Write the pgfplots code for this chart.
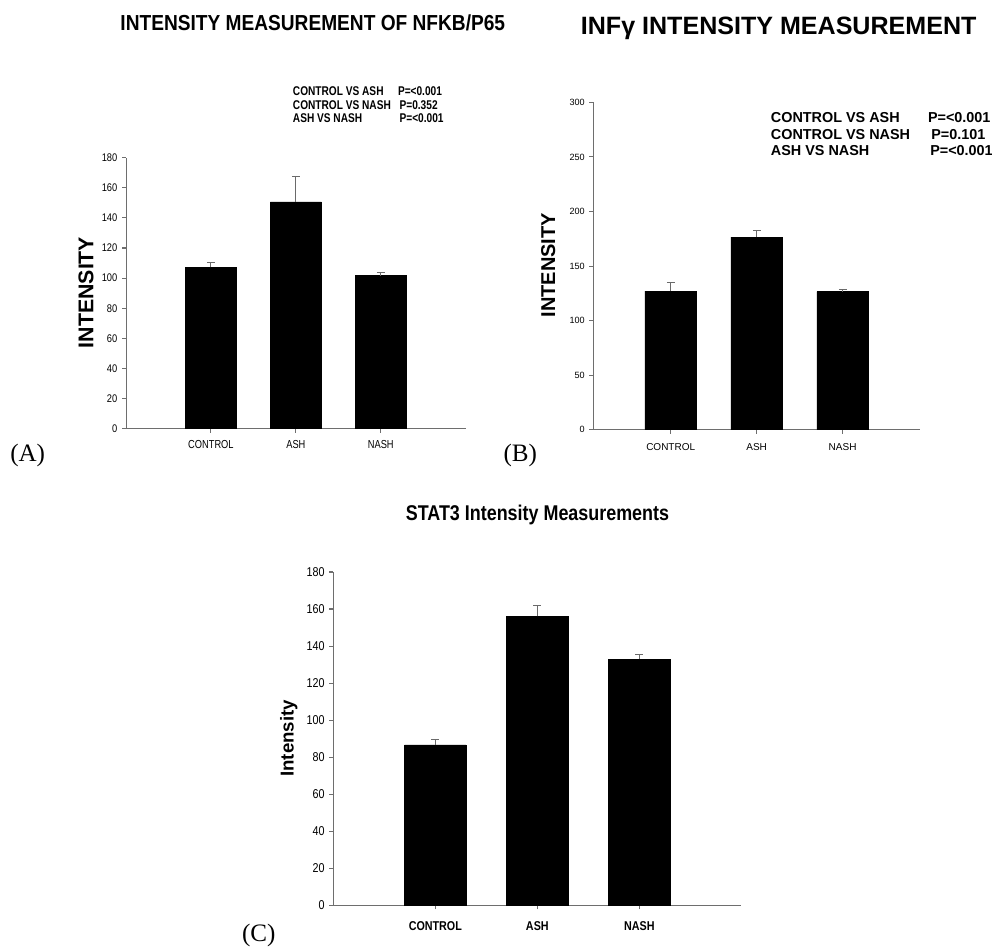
\documentclass[border=0pt]{standalone}
\usepackage{pgfplots}
\pgfplotsset{compat=1.18}
\usepackage{fontspec}
\setmainfont{Liberation Sans}
\newfontfamily\condA[FakeStretch=0.88]{Liberation Sans}
\newfontfamily\condB[FakeStretch=0.84]{Liberation Sans}
\newfontfamily\condC[FakeStretch=0.80]{Liberation Sans}
\newfontfamily\panelfont{Liberation Serif}

\definecolor{axgray}{HTML}{6E6E6E}
\definecolor{errgray}{HTML}{6A6A6A}

\pgfplotsset{
  barpanel/.style={
    scale only axis,
    axis lines*=left,
    axis line style={axgray, line width=0.75pt},
    ybar, bar width=0.6, bar shift=0pt,
    ymin=0,
    xtick={1,2,3},
    xticklabels={CONTROL,ASH,NASH},
    tick align=outside,
    tick style={axgray, line width=0.8pt},
    major tick length=3pt,
    /pgf/number format/assume math mode=true,
    error bars/y dir=plus,
    error bars/y explicit,
    error bars/error bar style={errgray, line width=0.75pt},
    error bars/error mark options={rotate=90, errgray, mark size=2.9pt, line width=0.75pt},
  },
}

\begin{document}
\begin{tikzpicture}
\path[use as bounding box] (0,0) rectangle (744pt,711pt);

% (A) NFKB/P65
\begin{axis}[barpanel,
  at={(94.5pt,389.5pt)}, anchor=south west,
  width=254.8pt, height=203.25pt,
  xmin=0, xmax=4, ymax=180,
  ytick={0,20,...,180},
  yticklabel style={font=\condB\fontsize{8.3}{9}\selectfont},
  xticklabel style={font=\condC\fontsize{8.7}{9}\selectfont, yshift=-2.5pt},
]
\addplot[fill=black, draw=black] coordinates {
  (1,107.2) +- (0,3.1)
  (2,150.6) +- (0,17.2)
  (3,101.6) +- (0,2.0)
};
\end{axis}

% (B) INF gamma
\begin{axis}[barpanel,
  at={(445pt,388.7pt)}, anchor=south west,
  width=245pt, height=245.5pt,
  xmin=0.1, xmax=3.9, ymax=300,
  ytick={0,50,...,300},
  yticklabel style={font=\fontsize{6.8}{7}\selectfont},
  xticklabel style={font=\fontsize{7.5}{8}\selectfont, yshift=-3.8pt},
]
\addplot[fill=black, draw=black] coordinates {
  (1,127.1) +- (0,8.0)
  (2,176.6) +- (0,6.1)
  (3,126.5) +- (0,2.4)
};
\end{axis}

% (C) STAT3
\begin{axis}[barpanel,
  at={(250pt,32pt)}, anchor=south west,
  width=306pt, height=250pt,
  xmin=0, xmax=4, ymax=180,
  ytick={0,20,...,180},
  yticklabel style={font=\condB\fontsize{9.6}{10}\selectfont},
  xticklabel style={font=\condB\bfseries\fontsize{9.6}{10}\selectfont, yshift=-5.5pt},
]
\addplot[fill=black, draw=black] coordinates {
  (1,86.6) +- (0,3.0)
  (2,156.1) +- (0,5.7)
  (3,133.0) +- (0,2.4)
};
\end{axis}

% titles
\node[anchor=base, font=\condA\bfseries\fontsize{16.3}{18}\selectfont] at (234.6pt,688pt) {INTENSITY MEASUREMENT OF NFKB/P65};
\node[anchor=base, font=\bfseries\fontsize{18.8}{20}\selectfont] at (584pt,684.75pt) {INFγ INTENSITY MEASUREMENT};
\node[anchor=base, font=\condB\bfseries\fontsize{16}{18}\selectfont] at (403.1pt,320.5pt) {STAT3 Intensity Measurements};

% y labels
\node[anchor=base, rotate=90, font=\bfseries\fontsize{16}{18}\selectfont] at (70pt,491.6pt) {INTENSITY};
\node[anchor=base, rotate=90, font=\bfseries\fontsize{15}{17}\selectfont] at (416.25pt,512pt) {INTENSITY};
\node[anchor=base, rotate=90, font=\bfseries\fontsize{14}{16}\selectfont] at (220.2pt,157.3pt) {Intensity};

% p values (A)
\begin{scope}[every node/.style={anchor=base west, inner sep=0pt, font=\condC\bfseries\fontsize{9.5}{10}\selectfont}]
\node at (219.5pt,639pt) {CONTROL VS ASH};
\node at (219.5pt,629pt) {CONTROL VS NASH};
\node at (219.5pt,619pt) {ASH VS NASH};
\node at (298.3pt,639pt) {P=<0.001};
\node at (299.5pt,629pt) {P=0.352};
\node at (299.5pt,619pt) {P=<0.001};
\end{scope}

% p values (B)
\begin{scope}[every node/.style={anchor=base west, inner sep=0pt, font=\bfseries\fontsize{10.8}{12}\selectfont}]
\node at (578pt,619pt) {CONTROL VS ASH};
\node at (578pt,606.5pt) {CONTROL VS NASH};
\node at (578pt,594pt) {ASH VS NASH};
\node at (695.8pt,619pt) {P=<0.001};
\node at (698.3pt,606.5pt) {P=0.101};
\node at (697.5pt,594pt) {P=<0.001};
\end{scope}

% panel letters
\begin{scope}[every node/.style={anchor=base west, inner sep=0pt, font=\panelfont\fontsize{18.8}{20}\selectfont}]
\node at (7.5pt,364.7pt) {(A)};
\node at (377.5pt,364.7pt) {(B)};
\node at (181.3pt,4.5pt) {(C)};
\end{scope}
\end{tikzpicture}
\end{document}
